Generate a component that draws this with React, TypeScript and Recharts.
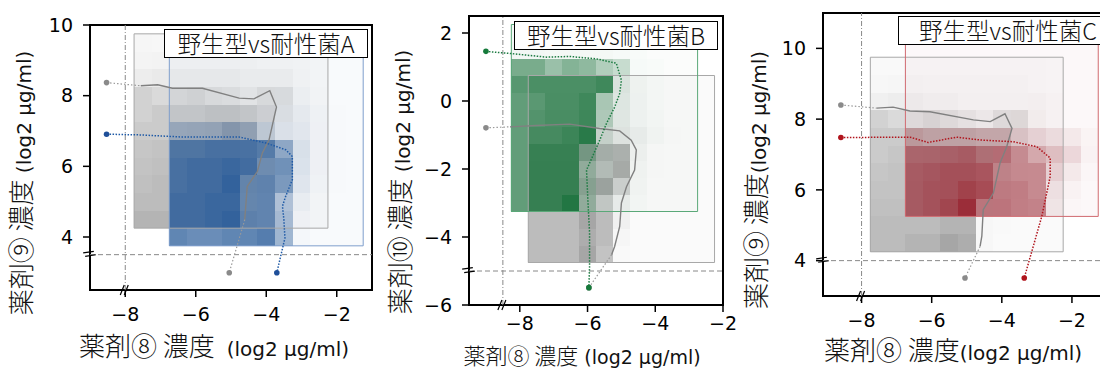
import React from "react";
import { ScatterChart, Scatter, XAxis, YAxis, ReferenceArea, ReferenceLine, ReferenceDot } from "recharts";

const JP = "'Noto Sans CJK JP', 'Noto Sans', sans-serif";
const NUM = "'DejaVu Sans', sans-serif";

type Pt = { x: number; y: number };

// ---- panel A: 野生型 vs 耐性菌A ----
const aGrayX = [-7.5, -7, -6.5, -6, -5.5, -5, -4.5, -4, -3.5, -3, -2.5];
const aGrayY = [9.5, 9, 8.5, 8, 7.5, 7, 6.5, 6, 5.5, 5, 4.5];
const aGray = [
  [0.06, 0.05, 0.05, 0.05, 0.05, 0.05, 0.05, 0.05, 0.04, 0.04, 0.04],
  [0.07, 0.08, 0.07, 0.07, 0.07, 0.07, 0.07, 0.06, 0.06, 0.05, 0.04],
  [0.12, 0.14, 0.12, 0.12, 0.12, 0.12, 0.1, 0.1, 0.1, 0.06, 0.04],
  [0.3, 0.25, 0.25, 0.28, 0.22, 0.2, 0.15, 0.22, 0.2, 0.06, 0.04],
  [0.3, 0.35, 0.35, 0.35, 0.38, 0.38, 0.35, 0.28, 0.15, 0.06, 0.04],
  [0.35, 0.35, 0.38, 0.4, 0.42, 0.5, 0.45, 0.2, 0.08, 0.05, 0.03],
  [0.38, 0.4, 0.45, 0.45, 0.45, 0.45, 0.4, 0.3, 0.1, 0.05, 0.03],
  [0.4, 0.42, 0.45, 0.45, 0.45, 0.45, 0.4, 0.3, 0.1, 0.04, 0.03],
  [0.42, 0.45, 0.45, 0.45, 0.45, 0.4, 0.35, 0.25, 0.08, 0.04, 0.03],
  [0.45, 0.45, 0.45, 0.45, 0.45, 0.4, 0.3, 0.2, 0.06, 0.04, 0.03],
  [0.5, 0.5, 0.45, 0.45, 0.45, 0.4, 0.3, 0.2, 0.05, 0.03, 0.03],
];
const aBlueX = [-6.5, -6, -5.5, -5, -4.5, -4, -3.5, -3, -2.5, -2, -1.5];
const aBlueY = [9, 8.5, 8, 7.5, 7, 6.5, 6, 5.5, 5, 4.5, 4];
const aBlue = [
  [0.03, 0.03, 0.03, 0.03, 0.03, 0.03, 0.03, 0.03, 0.03, 0.03, 0.03],
  [0.03, 0.03, 0.03, 0.03, 0.03, 0.03, 0.03, 0.03, 0.03, 0.03, 0.03],
  [0.04, 0.04, 0.04, 0.04, 0.04, 0.04, 0.05, 0.05, 0.04, 0.03, 0.03],
  [0.05, 0.05, 0.05, 0.05, 0.05, 0.06, 0.08, 0.08, 0.05, 0.04, 0.03],
  [0.3, 0.3, 0.3, 0.35, 0.3, 0.2, 0.12, 0.1, 0.06, 0.04, 0.03],
  [0.75, 0.75, 0.8, 0.8, 0.8, 0.75, 0.5, 0.15, 0.06, 0.04, 0.03],
  [0.8, 0.85, 0.85, 0.9, 0.85, 0.6, 0.65, 0.15, 0.06, 0.04, 0.03],
  [0.8, 0.85, 0.85, 0.95, 0.65, 0.7, 0.6, 0.12, 0.05, 0.04, 0.03],
  [0.85, 0.85, 0.9, 0.9, 0.65, 0.7, 0.35, 0.08, 0.04, 0.03, 0.03],
  [0.85, 0.85, 0.9, 0.95, 0.7, 0.7, 0.4, 0.06, 0.04, 0.03, 0.03],
  [0.75, 0.7, 0.7, 0.75, 0.75, 0.8, 0.45, 0.05, 0.03, 0.03, 0.03],
];
const aGrayCurve: Pt[] = [
  { x: -7.56, y: 8.28 }, { x: -7.08, y: 8.31 }, { x: -6.66, y: 8.21 }, { x: -5.81, y: 8.21 },
  { x: -4.77, y: 7.93 }, { x: -4.35, y: 7.91 }, { x: -3.9, y: 8.14 }, { x: -3.71, y: 7.68 },
  { x: -3.92, y: 6.75 }, { x: -4.11, y: 6.38 }, { x: -4.25, y: 5.86 }, { x: -4.54, y: 5.43 },
  { x: -4.61, y: 4.49 },
];
const aGrayDots: Pt[] = [{ x: -8.53, y: 8.37 }, { x: -5.05, y: 2.99 }];
const aBlueCurve: Pt[] = [
  { x: -7.6, y: 6.89 }, { x: -6.38, y: 6.83 }, { x: -4.77, y: 6.83 }, { x: -4.01, y: 6.66 },
  { x: -3.45, y: 6.47 }, { x: -3.26, y: 6.28 }, { x: -3.26, y: 5.62 }, { x: -3.45, y: 5.15 },
  { x: -3.54, y: 4.87 }, { x: -3.5, y: 4.49 }, { x: -3.47, y: 3.97 },
];
const aBlueDots: Pt[] = [{ x: -8.53, y: 6.91 }, { x: -3.7, y: 2.99 }];

// ---- panel B: 野生型 vs 耐性菌B ----
const bGreenX = [-8, -7.5, -7, -6.5, -6, -5.5, -5, -4.5, -4, -3.5, -3];
const bGreenY = [2, 1.5, 1, 0.5, 0, -0.5, -1, -1.5, -2, -2.5, -3];
const bGreen = [
  [0.04, 0.04, 0.04, 0.04, 0.04, 0.04, 0.04, 0.03, 0.02, 0.02, 0.02],
  [0.06, 0.06, 0.05, 0.05, 0.05, 0.05, 0.04, 0.03, 0.02, 0.02, 0.02],
  [0.6, 0.6, 0.45, 0.55, 0.5, 0.35, 0.25, 0.04, 0.03, 0.02, 0.02],
  [0.75, 0.8, 0.8, 0.8, 0.8, 0.85, 0.12, 0.05, 0.03, 0.02, 0.02],
  [0.7, 0.72, 0.8, 0.8, 0.85, 0.35, 0.1, 0.04, 0.03, 0.02, 0.02],
  [0.7, 0.75, 0.8, 0.8, 0.85, 0.3, 0.08, 0.04, 0.03, 0.02, 0.02],
  [0.7, 0.8, 0.8, 0.85, 0.95, 0.15, 0.06, 0.04, 0.03, 0.02, 0.02],
  [0.7, 0.85, 0.85, 0.85, 0.4, 0.1, 0.06, 0.03, 0.02, 0.02, 0.02],
  [0.7, 0.85, 0.85, 0.85, 0.3, 0.1, 0.05, 0.03, 0.02, 0.02, 0.02],
  [0.7, 0.85, 0.85, 0.85, 0.3, 0.08, 0.04, 0.03, 0.02, 0.02, 0.02],
  [0.7, 0.85, 0.85, 0.98, 0.3, 0.06, 0.04, 0.03, 0.02, 0.02, 0.02],
];
const bGrayX = [-7.5, -7, -6.5, -6, -5.5, -5, -4.5, -4, -3.5, -3, -2.5];
const bGrayY = [0.5, 0, -0.5, -1, -1.5, -2, -2.5, -3, -3.5, -4, -4.5];
const bGray = [
  [0.05, 0.05, 0.05, 0.05, 0.05, 0.08, 0.04, 0.03, 0.03, 0.03, 0.03],
  [0.08, 0.08, 0.08, 0.08, 0.08, 0.08, 0.06, 0.03, 0.03, 0.03, 0.03],
  [0.12, 0.12, 0.12, 0.12, 0.12, 0.1, 0.06, 0.04, 0.03, 0.03, 0.03],
  [0.2, 0.2, 0.2, 0.2, 0.2, 0.15, 0.1, 0.05, 0.04, 0.03, 0.03],
  [0.4, 0.4, 0.4, 0.55, 0.5, 0.5, 0.08, 0.04, 0.03, 0.03, 0.03],
  [0.45, 0.45, 0.45, 0.4, 0.4, 0.55, 0.06, 0.04, 0.03, 0.03, 0.03],
  [0.45, 0.45, 0.45, 0.5, 0.6, 0.3, 0.05, 0.03, 0.03, 0.03, 0.03],
  [0.45, 0.45, 0.45, 0.4, 0.35, 0.1, 0.04, 0.03, 0.03, 0.03, 0.03],
  [0.45, 0.45, 0.45, 0.6, 0.45, 0.1, 0.03, 0.03, 0.03, 0.03, 0.03],
  [0.45, 0.45, 0.45, 0.55, 0.45, 0.06, 0.03, 0.03, 0.03, 0.03, 0.03],
  [0.45, 0.45, 0.45, 0.6, 0.4, 0.04, 0.03, 0.03, 0.03, 0.03, 0.03],
];
const bGrayCurve: Pt[] = [
  { x: -8.29, y: -0.76 }, { x: -7.51, y: -0.72 }, { x: -6.53, y: -0.68 }, { x: -5.64, y: -0.81 },
  { x: -5.05, y: -0.88 }, { x: -4.71, y: -1.15 }, { x: -4.56, y: -1.44 }, { x: -4.61, y: -2.03 },
  { x: -4.85, y: -2.52 }, { x: -5.0, y: -3.0 }, { x: -5.05, y: -3.69 }, { x: -5.2, y: -4.28 },
  { x: -5.29, y: -4.52 },
];
const bGrayDots: Pt[] = [{ x: -9.0, y: -0.79 }, { x: -5.96, y: -5.49 }];
const bGreenCurve: Pt[] = [
  { x: -8.2, y: 1.39 }, { x: -7.21, y: 1.29 }, { x: -6.53, y: 1.31 }, { x: -5.74, y: 1.24 },
  { x: -5.15, y: 1.11 }, { x: -5.0, y: 0.61 }, { x: -5.05, y: 0.22 }, { x: -5.2, y: -0.18 },
  { x: -5.44, y: -0.66 }, { x: -5.64, y: -1.15 }, { x: -6.03, y: -2.03 }, { x: -5.99, y: -2.91 },
  { x: -5.94, y: -3.88 }, { x: -5.94, y: -4.86 },
];
const bGreenDots: Pt[] = [{ x: -9.0, y: 1.46 }, { x: -5.96, y: -5.49 }];

// ---- panel C: 野生型 vs 耐性菌C ----
const cGrayX = [-7.5, -7, -6.5, -6, -5.5, -5, -4.5, -4, -3.5, -3, -2.5];
const cGrayY = [9.5, 9, 8.5, 8, 7.5, 7, 6.5, 6, 5.5, 5, 4.5];
const cGray = [
  [0.04, 0.04, 0.04, 0.04, 0.04, 0.04, 0.04, 0.04, 0.04, 0.04, 0.03],
  [0.05, 0.06, 0.06, 0.05, 0.05, 0.05, 0.05, 0.05, 0.05, 0.04, 0.03],
  [0.1, 0.12, 0.1, 0.08, 0.08, 0.06, 0.06, 0.06, 0.06, 0.05, 0.03],
  [0.3, 0.25, 0.2, 0.25, 0.2, 0.15, 0.1, 0.2, 0.2, 0.05, 0.03],
  [0.35, 0.35, 0.35, 0.35, 0.35, 0.35, 0.3, 0.3, 0.15, 0.05, 0.03],
  [0.35, 0.38, 0.38, 0.4, 0.4, 0.4, 0.35, 0.2, 0.08, 0.04, 0.03],
  [0.38, 0.4, 0.4, 0.42, 0.42, 0.4, 0.3, 0.15, 0.06, 0.04, 0.03],
  [0.4, 0.4, 0.42, 0.42, 0.42, 0.38, 0.25, 0.1, 0.05, 0.04, 0.03],
  [0.42, 0.42, 0.42, 0.42, 0.42, 0.35, 0.12, 0.06, 0.04, 0.03, 0.03],
  [0.45, 0.45, 0.45, 0.45, 0.5, 0.5, 0.05, 0.04, 0.03, 0.03, 0.03],
  [0.45, 0.45, 0.5, 0.5, 0.6, 0.55, 0.05, 0.03, 0.03, 0.03, 0.03],
];
const cRedX = [-6.5, -6, -5.5, -5, -4.5, -4, -3.5, -3, -2.5, -2, -1.5];
const cRedY = [10.5, 10, 9.5, 9, 8.5, 8, 7.5, 7, 6.5, 6, 5.5];
const cRed = [
  [0.02, 0.02, 0.02, 0.02, 0.02, 0.02, 0.02, 0.02, 0.02, 0.02, 0.02],
  [0.03, 0.03, 0.03, 0.03, 0.03, 0.03, 0.03, 0.03, 0.03, 0.03, 0.03],
  [0.03, 0.03, 0.03, 0.03, 0.03, 0.03, 0.03, 0.03, 0.03, 0.03, 0.03],
  [0.03, 0.03, 0.03, 0.03, 0.03, 0.03, 0.03, 0.03, 0.03, 0.03, 0.03],
  [0.03, 0.03, 0.03, 0.03, 0.03, 0.03, 0.03, 0.04, 0.04, 0.03, 0.03],
  [0.04, 0.04, 0.04, 0.04, 0.04, 0.04, 0.05, 0.05, 0.04, 0.03, 0.03],
  [0.3, 0.25, 0.25, 0.25, 0.25, 0.25, 0.2, 0.18, 0.14, 0.1, 0.05],
  [0.6, 0.6, 0.62, 0.65, 0.55, 0.62, 0.5, 0.38, 0.28, 0.18, 0.06],
  [0.65, 0.68, 0.72, 0.72, 0.72, 0.52, 0.52, 0.52, 0.2, 0.1, 0.04],
  [0.65, 0.7, 0.72, 0.82, 0.78, 0.58, 0.58, 0.52, 0.12, 0.06, 0.03],
  [0.65, 0.7, 0.78, 0.95, 0.6, 0.62, 0.58, 0.56, 0.1, 0.04, 0.03],
];
const cGrayCurve: Pt[] = [
  { x: -7.57, y: 8.31 }, { x: -7.1, y: 8.34 }, { x: -6.62, y: 8.23 }, { x: -6.05, y: 8.21 },
  { x: -4.81, y: 7.98 }, { x: -4.33, y: 7.93 }, { x: -3.91, y: 8.15 }, { x: -3.71, y: 7.74 },
  { x: -3.86, y: 7.22 }, { x: -4.05, y: 6.76 }, { x: -4.24, y: 5.91 }, { x: -4.53, y: 5.44 },
  { x: -4.57, y: 4.69 }, { x: -4.62, y: 4.4 },
];
const cGrayDots: Pt[] = [{ x: -8.59, y: 8.4 }, { x: -5.05, y: 3.51 }];
const cRedCurve: Pt[] = [
  { x: -6.62, y: 7.49 }, { x: -6.1, y: 7.34 }, { x: -5.29, y: 7.49 }, { x: -4.62, y: 7.41 },
  { x: -3.67, y: 7.36 }, { x: -3.0, y: 7.22 }, { x: -2.62, y: 6.9 }, { x: -2.62, y: 6.38 },
  { x: -2.76, y: 5.72 }, { x: -2.86, y: 5.25 },
];
const cRedDots: Pt[] = [{ x: -8.59, y: 7.48 }, { x: -3.36, y: 3.51 }];

const xTicks = [-8, -6, -4, -2];
const aYTicks = [4, 6, 8, 10];
const bYTicks = [-6, -4, -2, 0, 2];
const cYTicks = [4, 6, 8, 10];

const fmt = (v: number) => (v < 0 ? "\u2212" + Math.abs(v) : String(v));

function heat(xs: number[], ys: number[], grid: number[][], color: string, key: string) {
  const hx = Math.abs(xs[1] - xs[0]) / 2;
  const hy = Math.abs(ys[1] - ys[0]) / 2;
  const out: React.ReactNode[] = [];
  ys.forEach((y, i) =>
    xs.forEach((x, j) => {
      out.push(
        <ReferenceArea
          key={`${key}-${i}-${j}`}
          x1={x - hx}
          x2={x + hx}
          y1={y - hy}
          y2={y + hy}
          fill={color}
          fillOpacity={grid[i][j]}
          stroke="none"
          ifOverflow="visible"
          shapeRendering="crispEdges"
        />
      );
    })
  );
  return out;
}

function outline(xs: number[], ys: number[], stroke: string, key: string) {
  const hx = Math.abs(xs[1] - xs[0]) / 2;
  const hy = Math.abs(ys[1] - ys[0]) / 2;
  return (
    <ReferenceArea
      key={key}
      x1={Math.min(...xs) - hx}
      x2={Math.max(...xs) + hx}
      y1={Math.min(...ys) - hy}
      y2={Math.max(...ys) + hy}
      fill="none"
      stroke={stroke}
      strokeWidth={1}
      ifOverflow="visible"
    />
  );
}

const breakMark = (rot: number) => (p: any) => (
  <g transform={`translate(${p.cx},${p.cy}) rotate(${rot})`} stroke="#000" strokeWidth={1.2}>
    <line x1={-5} y1={5} x2={-1} y2={-5} />
    <line x1={-1} y1={5} x2={3} y2={-5} />
  </g>
);

interface PanelProps {
  left: number; top: number; w: number; h: number;
  xDomain: [number, number]; yDomain: [number, number]; yTicks: number[];
  grayX: number[]; grayY: number[]; gray: number[][];
  colX: number[]; colY: number[]; col: number[][];
  colFill: string; colEdge: string; colLine: string; colDot: string;
  grayCurve: Pt[]; grayDots: Pt[]; colCurve: Pt[]; colDots: Pt[];
  guideX: number; guideY: number;
  title: string; titleBox: { left: number; top: number; width: number };
  xLabel: [string, string]; yLabel: [string, string];
  xLabelAt: [number, number]; yLabelAt: [number, number];
  xTickGap: number; labelSize: number; latinSize: number;
}

const hide = () => <g />;

function AxisTitle({ parts, size, latin }: { parts: [string, string]; size: number; latin: number }) {
  return (
    <>
      <span style={{ display: "inline-block", lineHeight: "20px", fontFamily: JP, fontWeight: 300, fontSize: size, whiteSpace: "pre" }}>
        {parts[0]}
      </span>
      <span style={{ display: "inline-block", lineHeight: "20px", fontFamily: NUM, fontSize: latin, whiteSpace: "pre" }}>
        {parts[1]}
      </span>
    </>
  );
}

function Panel(p: PanelProps) {
  const yw = 80;
  const xh = 50;
  const padR = 20;
  const dot = (c: string) => (s: any) => <circle cx={s.cx} cy={s.cy} r={2.8} fill={c} />;
  return (
    <>
      <div style={{ position: "absolute", left: p.left - yw, top: 0 }}>
        <ScatterChart
          width={yw + p.w + padR}
          height={372}
          margin={{ top: p.top, right: padR, bottom: 372 - p.top - p.h - xh, left: 0 }}
        >
          <XAxis
            type="number" dataKey="x" domain={p.xDomain} ticks={xTicks} allowDataOverflow
            tickFormatter={fmt} height={xh} axisLine={false} tickSize={7} tickMargin={p.xTickGap}
            tickLine={{ stroke: "#000", strokeWidth: 1.5 }}
            tick={{ fill: "#000", fontSize: 19, fontFamily: NUM }}
          />
          <YAxis
            type="number" dataKey="y" domain={p.yDomain} ticks={p.yTicks} allowDataOverflow
            tickFormatter={fmt} width={yw} axisLine={false} tickSize={7} tickMargin={10}
            tickLine={{ stroke: "#000", strokeWidth: 1.5 }}
            tick={{ fill: "#000", fontSize: 19, fontFamily: NUM }}
          />
          {heat(p.grayX, p.grayY, p.gray, "#6a6a6a", "g")}
          {heat(p.colX, p.colY, p.col, p.colFill, "c")}
          {outline(p.grayX, p.grayY, "#a8a8a8", "go")}
          {outline(p.colX, p.colY, p.colEdge, "co")}
          <ReferenceLine x={p.guideX} stroke="#888" strokeWidth={1} strokeDasharray="5 2 1 2" />
          <ReferenceLine y={p.guideY} stroke="#888" strokeWidth={1} strokeDasharray="5 3" />
          <Scatter data={[p.grayDots[0], p.grayCurve[0]]} shape={hide} line={{ stroke: "#9a9a9a", strokeWidth: 1.2, strokeDasharray: "1.5 2" }} isAnimationActive={false} />
          <Scatter data={p.grayCurve} shape={hide} line={{ stroke: "#808080", strokeWidth: 1.4 }} isAnimationActive={false} />
          <Scatter data={[p.grayCurve[p.grayCurve.length - 1], p.grayDots[1]]} shape={hide} line={{ stroke: "#9a9a9a", strokeWidth: 1.2, strokeDasharray: "1.5 2" }} isAnimationActive={false} />
          <Scatter data={[p.colDots[0], ...p.colCurve, p.colDots[1]]} shape={hide} line={{ stroke: p.colLine, strokeWidth: 1.5, strokeDasharray: "1.5 1.5" }} isAnimationActive={false} />
          <Scatter data={p.grayDots} shape={dot("#8a8a8a")} isAnimationActive={false} />
          <Scatter data={p.colDots} shape={dot(p.colDot)} isAnimationActive={false} />
          <ReferenceArea x1={p.xDomain[0]} x2={p.xDomain[1]} y1={p.yDomain[0]} y2={p.yDomain[1]} fill="none" stroke="#000" strokeWidth={2} ifOverflow="visible" />
          <ReferenceDot x={p.guideX} y={p.yDomain[0]} ifOverflow="visible" shape={breakMark(0)} />
          <ReferenceDot x={p.xDomain[0]} y={p.guideY} ifOverflow="visible" shape={breakMark(60)} />
        </ScatterChart>
      </div>
      <div
        style={{
          position: "absolute", left: p.titleBox.left, top: p.titleBox.top, width: p.titleBox.width,
          height: 29, boxSizing: "border-box", border: "1.5px solid #000", background: "#fff",
          fontFamily: JP, fontWeight: 300, fontSize: 23.5, lineHeight: "26px", textAlign: "center",
          whiteSpace: "nowrap", color: "#111",
        }}
      >
        {p.title}
      </div>
      <div
        style={{
          position: "absolute", left: p.xLabelAt[0], top: p.xLabelAt[1], transform: "translate(-50%, -50%)",
          whiteSpace: "nowrap", color: "#111", lineHeight: "20px",
        }}
      >
        <AxisTitle parts={p.xLabel} size={p.labelSize} latin={p.latinSize} />
      </div>
      <div
        style={{
          position: "absolute", left: p.yLabelAt[0], top: p.yLabelAt[1], transform: "translate(-50%, -50%) rotate(-90deg)",
          whiteSpace: "nowrap", color: "#111", lineHeight: "20px",
        }}
      >
        <AxisTitle parts={p.yLabel} size={26} latin={20} />
      </div>
    </>
  );
}

export default function App() {
  return (
    <div style={{ position: "fixed", left: 0, top: 0, width: 1100, height: 372, overflow: "hidden", background: "#fff" }}>
      <Panel
        left={90} top={25} w={282} h={265} xDomain={[-9, -1]} yDomain={[2.5, 10]} yTicks={aYTicks}
        grayX={aGrayX} grayY={aGrayY} gray={aGray} colX={aBlueX} colY={aBlueY} col={aBlue}
        colFill="#2b5d9a" colEdge="#7f9fcc" colLine="#1f5aa6" colDot="#1f4f99"
        grayCurve={aGrayCurve} grayDots={aGrayDots} colCurve={aBlueCurve} colDots={aBlueDots}
        guideX={-8} guideY={3.5}
        title="野生型vs耐性菌A" titleBox={{ left: 164, top: 29, width: 204 }}
        xLabel={["薬剤⑧ 濃度 ", " (log2 μg/ml)"]} yLabel={["薬剤⑨ 濃度", " (log2 μg/ml)"]}
        xLabelAt={[214, 348]} yLabelAt={[23, 183]} xTickGap={11} labelSize={26} latinSize={20}
      />
      <Panel
        left={469} top={16} w={254} h={289} xDomain={[-9.5, -2]} yDomain={[-6, 2.5]} yTicks={bYTicks}
        grayX={bGrayX} grayY={bGrayY} gray={bGray} colX={bGreenX} colY={bGreenY} col={bGreen}
        colFill="#1f7440" colEdge="#5aa878" colLine="#1a7a40" colDot="#157a3a"
        grayCurve={bGrayCurve} grayDots={bGrayDots} colCurve={bGreenCurve} colDots={bGreenDots}
        guideX={-8.5} guideY={-5}
        title="野生型vs耐性菌B" titleBox={{ left: 514, top: 21, width: 204 }}
        xLabel={["薬剤⑧ 濃度", " (log2 μg/ml)"]} yLabel={["薬剤⑩ 濃度", " (log2 μg/ml)"]}
        xLabelAt={[582, 355.5]} yLabelAt={[402, 182]} xTickGap={5} labelSize={22} latinSize={19}
      />
      <Panel
        left={823} top={13} w={284} h={283} xDomain={[-9.1, -1]} yDomain={[3, 11]} yTicks={cYTicks}
        grayX={cGrayX} grayY={cGrayY} gray={cGray} colX={cRedX} colY={cRedY} col={cRed}
        colFill="#982430" colEdge="#d06a70" colLine="#b0141c" colDot="#b0141c"
        grayCurve={cGrayCurve} grayDots={cGrayDots} colCurve={cRedCurve} colDots={cRedDots}
        guideX={-8} guideY={4}
        title="野生型vs耐性菌C" titleBox={{ left: 898, top: 16, width: 220 }}
        xLabel={["薬剤⑧ 濃度", "(log2 μg/ml)"]} yLabel={["薬剤⑨ 濃度", "(log2 μg/ml)"]}
        xLabelAt={[953, 352]} yLabelAt={[758, 180]} xTickGap={11} labelSize={26} latinSize={20}
      />
    </div>
  );
}
